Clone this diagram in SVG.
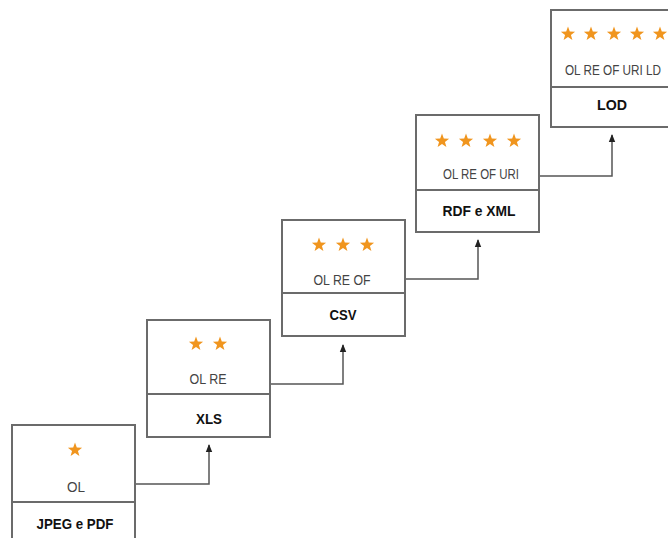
<svg xmlns="http://www.w3.org/2000/svg" width="668" height="538" viewBox="0 0 668 538">
<style>
.box{fill:#fff;stroke:#6b6b6b;stroke-width:2}
.div{stroke:#6b6b6b;stroke-width:2}
.mid{font-family:"Liberation Sans","DejaVu Sans",sans-serif;font-size:15.5px;fill:#444;text-anchor:middle}
.fmt{font-family:"Liberation Sans","DejaVu Sans",sans-serif;font-size:15px;font-weight:bold;fill:#111;text-anchor:middle}
.conn{fill:none;stroke:#555;stroke-width:1.5}
.star{fill:#f0951e}
</style>
<defs>
<polygon id="star" points="0,-7.5 1.8,-2.5 7.1,-2.3 2.95,0.95 4.4,6.05 0,3.1 -4.4,6.05 -2.95,0.95 -7.1,-2.3 -1.8,-2.5"/>
<marker id="arr" markerWidth="8" markerHeight="8" refX="7" refY="4" orient="auto" markerUnits="userSpaceOnUse">
<path d="M0,0.8 L8,4 L0,7.2 Z" fill="#222"/>
</marker>
</defs>
<rect width="668" height="538" fill="#fff"/>
<g id="connectors">
<path class="conn" d="M135,484 H209 V445" marker-end="url(#arr)"/>
<path class="conn" d="M270,384 H343 V345" marker-end="url(#arr)"/>
<path class="conn" d="M405,279 H478 V240" marker-end="url(#arr)"/>
<path class="conn" d="M539,176 H612 V135" marker-end="url(#arr)"/>
</g>
<g id="node1">
<rect class="box" x="12" y="425" width="123" height="125"/>
<line class="div" x1="12" y1="502" x2="135" y2="502"/>
<use href="#star" class="star" x="75" y="450"/>
<text class="mid" x="76" y="492" textLength="18" lengthAdjust="spacingAndGlyphs">OL</text>
<text class="fmt" x="75" y="529" textLength="77" lengthAdjust="spacingAndGlyphs">JPEG e PDF</text>
</g>
<g id="node2">
<rect class="box" x="147" y="320" width="123" height="117"/>
<line class="div" x1="147" y1="394" x2="270" y2="394"/>
<use href="#star" class="star" x="196" y="344"/>
<use href="#star" class="star" x="220" y="344"/>
<text class="mid" x="208" y="384" textLength="37" lengthAdjust="spacingAndGlyphs">OL RE</text>
<text class="fmt" x="209" y="424" textLength="26" lengthAdjust="spacingAndGlyphs">XLS</text>
</g>
<g id="node3">
<rect class="box" x="282" y="220" width="123" height="116"/>
<line class="div" x1="282" y1="293" x2="405" y2="293"/>
<use href="#star" class="star" x="319" y="245"/>
<use href="#star" class="star" x="343" y="245"/>
<use href="#star" class="star" x="367" y="245"/>
<text class="mid" x="342" y="285" textLength="57" lengthAdjust="spacingAndGlyphs">OL RE OF</text>
<text class="fmt" x="343" y="320" textLength="27" lengthAdjust="spacingAndGlyphs">CSV</text>
</g>
<g id="node4">
<rect class="box" x="416" y="115" width="123" height="117"/>
<line class="div" x1="416" y1="190" x2="539" y2="190"/>
<use href="#star" class="star" x="442" y="141"/>
<use href="#star" class="star" x="466" y="141"/>
<use href="#star" class="star" x="490" y="141"/>
<use href="#star" class="star" x="514" y="141"/>
<text class="mid" x="481" y="179" textLength="76" lengthAdjust="spacingAndGlyphs">OL RE OF URI</text>
<text class="fmt" x="479" y="216" textLength="73" lengthAdjust="spacingAndGlyphs">RDF e XML</text>
</g>
<g id="node5">
<rect class="box" x="551" y="10" width="123" height="117"/>
<line class="div" x1="551" y1="87" x2="674" y2="87"/>
<use href="#star" class="star" x="568" y="34"/>
<use href="#star" class="star" x="591" y="34"/>
<use href="#star" class="star" x="614" y="34"/>
<use href="#star" class="star" x="637" y="34"/>
<use href="#star" class="star" x="660" y="34"/>
<text class="mid" x="661" y="75" text-anchor="end" style="text-anchor:end" textLength="96" lengthAdjust="spacingAndGlyphs">OL RE OF URI LD</text>
<text class="fmt" x="612" y="110" textLength="30" lengthAdjust="spacingAndGlyphs">LOD</text>
</g>
</svg>
